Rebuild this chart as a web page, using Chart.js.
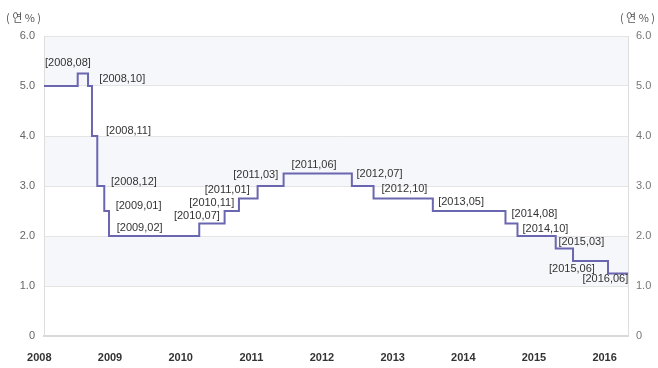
<!DOCTYPE html>
<html>
<head>
<meta charset="utf-8">
<script src="https://cdn.jsdelivr.net/npm/chart.js@4"></script>
<style>
  html, body { margin: 0; padding: 0; background: #ffffff; }
  #wrap { position: relative; width: 658px; height: 368px; }
</style>
</head>
<body>
<div id="wrap"><canvas id="c"></canvas></div>
<script>
// Step change points: x in years, value in % per year
const stepX = [2008.066, 2008.543, 2008.689, 2008.745, 2008.820, 2008.919, 2008.986,
  2010.263, 2010.622, 2010.825, 2011.089, 2011.457, 2012.423, 2012.730, 2013.569,
  2014.597, 2014.767, 2015.308, 2015.553, 2016.048, 2016.331];
const rateValues = [5.0, 5.25, 5.0, 4.0, 3.0, 2.5, 2.0,
  2.25, 2.5, 2.75, 3.0, 3.25, 3.0, 2.75, 2.5,
  2.25, 2.0, 1.75, 1.5, 1.25, 1.25];
// Annotation texts for change points 1..19
const changeLabels = ['[2008,08]', '[2008,10]', '[2008,11]', '[2008,12]', '[2009,01]', '[2009,02]',
  '[2010,07]', '[2010,11]', '[2011,01]', '[2011,03]', '[2011,06]', '[2012,07]', '[2012,10]',
  '[2013,05]', '[2014,08]', '[2014,10]', '[2015,03]', '[2015,06]', '[2016,06]'];
const yearTicks = [2008, 2009, 2010, 2011, 2012, 2013, 2014, 2015, 2016];
const rateTicks = [0, 1, 2, 3, 4, 5, 6];
const unitLabel = '( 연 % )';

// label placement offsets (px) relative to each change point: [dx to text left, dy to text middle]
const labelOffsets = [[-32.7, -10.5], [11.3, -7], [14, -5], [13.7, -3.7], [11.4, -5.3], [7.7, -8.3],
  [-25.3, -7.8], [-35.4, -8.3], [-34.3, -8.8], [-24.4, -11], [8, -8.5], [4.7, -11.7], [8, -9.2],
  [5.3, -8.7], [6, -9.2], [5, -7], [2.7, -6.2], [-24, 8.3], [-25.6, 5.8]];

const points = stepX.map((x, i) => ({ x: x, y: rateValues[i] }));

const bandPlugin = {
  id: 'bands',
  beforeDraw(chart) {
    const { ctx, chartArea: a, scales } = chart;
    const y = scales.y;
    ctx.save();
    ctx.fillStyle = '#f6f7fa';
    [[5, 6], [3, 4], [1, 2]].forEach(([lo, hi]) => {
      const top = y.getPixelForValue(hi), bot = y.getPixelForValue(lo);
      ctx.fillRect(a.left, top, a.right - a.left, bot - top);
    });
    ctx.restore();
  }
};

const textPlugin = {
  id: 'texts',
  afterDatasetsDraw(chart) {
    const { ctx, scales } = chart;
    const xs = scales.x, ys = scales.y;
    ctx.save();
    ctx.font = '11px "Liberation Sans", Arial, sans-serif';
    ctx.fillStyle = '#333333';
    ctx.textBaseline = 'middle';
    ctx.textAlign = 'left';
    changeLabels.forEach((t, i) => {
      const px = xs.getPixelForValue(stepX[i + 1]);
      const py = ys.getPixelForValue(rateValues[i + 1]);
      ctx.fillText(t, px + labelOffsets[i][0], py + labelOffsets[i][1]);
    });
    // unit labels
    ctx.font = '11px "Noto Sans CJK KR", "Liberation Sans", sans-serif';
    ctx.fillStyle = '#555555';
    ctx.textAlign = 'left';
    ctx.fillText(unitLabel, 6, 18);
    ctx.textAlign = 'right';
    ctx.fillText(unitLabel, 655, 18);
    ctx.restore();
  }
};

new Chart(document.getElementById('c'), {
  type: 'line',
  data: {
    datasets: [{
      data: points,
      stepped: 'before',
      borderColor: '#6b66b0',
      borderWidth: 2,
      pointRadius: 0,
      fill: false,
      tension: 0
    }]
  },
  options: {
    responsive: true,
    maintainAspectRatio: false,
    animation: false,
    layout: { padding: { top: 36, left: 0, right: 0, bottom: 0 } },
    plugins: { legend: { display: false }, tooltip: { enabled: false } },
    scales: {
      x: {
        type: 'linear',
        min: stepX[0],
        max: stepX[stepX.length - 1],
        afterBuildTicks(scale) { scale.ticks = yearTicks.map(v => ({ value: v })); },
        afterFit(scale) { scale.height = 32; },
        grid: { display: false, drawTicks: false },
        border: { display: true, color: '#d9d9d9', width: 2 },
        ticks: {
          autoSkip: false, maxRotation: 0, padding: 15,
          color: '#333333',
          font: { family: '"Liberation Sans", Arial, sans-serif', size: 11, weight: 'bold' },
          callback: v => String(v)
        }
      },
      y: {
        position: 'left',
        min: 0, max: 6,
        afterBuildTicks(scale) { scale.ticks = rateTicks.map(v => ({ value: v })); },
        afterFit(scale) { scale.width = 44; },
        grid: { color: '#e4e4e4', drawTicks: false },
        border: { display: true, color: '#dddddd' },
        ticks: {
          padding: 9, color: '#666666',
          font: { family: '"Liberation Sans", Arial, sans-serif', size: 11 },
          callback: v => v === 0 ? '0' : v.toFixed(1)
        }
      },
      y2: {
        position: 'right',
        min: 0, max: 6,
        afterBuildTicks(scale) { scale.ticks = rateTicks.map(v => ({ value: v })); },
        afterFit(scale) { scale.width = 30; },
        grid: { display: false, drawTicks: false },
        border: { display: true, color: '#dddddd' },
        ticks: {
          padding: 8, color: '#777777',
          font: { family: '"Liberation Sans", Arial, sans-serif', size: 11 },
          callback: v => v === 0 ? '0' : v.toFixed(1)
        }
      }
    }
  },
  plugins: [bandPlugin, textPlugin]
});
</script>
</body>
</html>
